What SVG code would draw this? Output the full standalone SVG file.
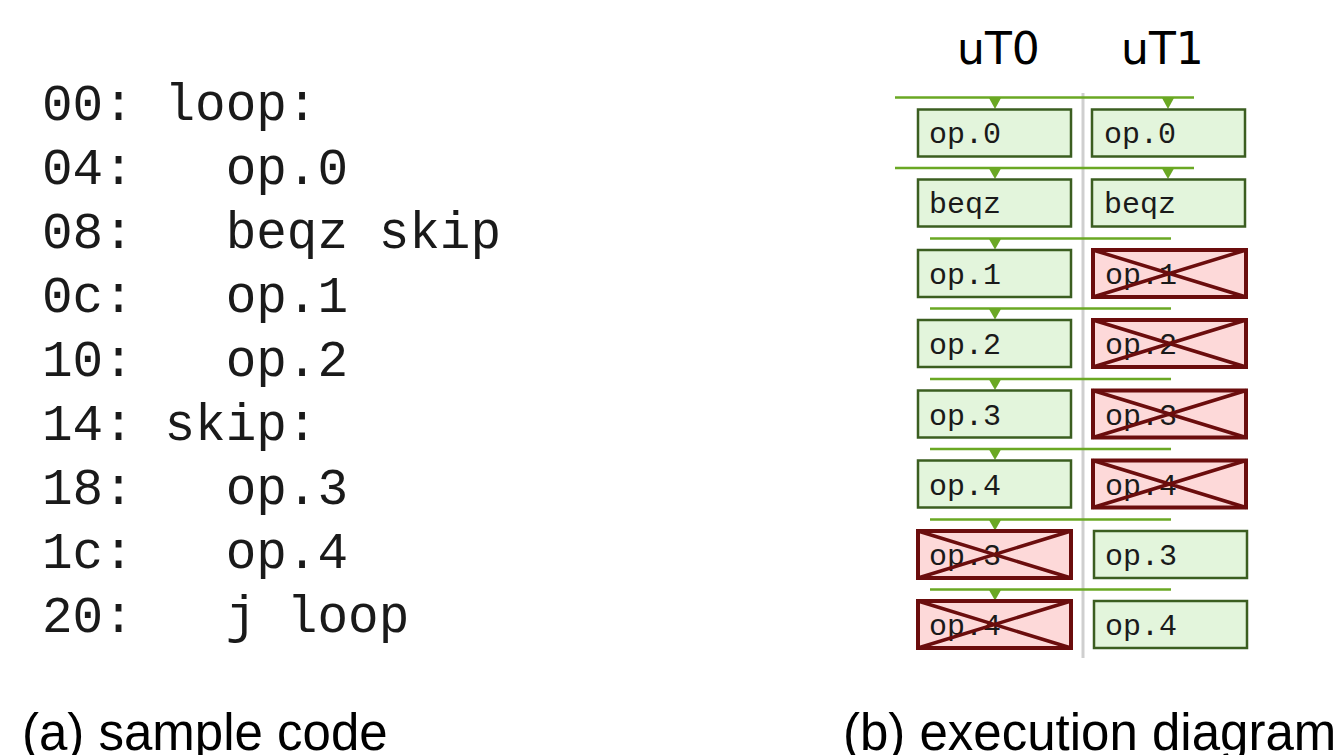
<svg xmlns="http://www.w3.org/2000/svg" width="1336" height="755" viewBox="0 0 1336 755">
<defs>
<style>
.code{font-family:"Liberation Mono","Courier New",monospace;font-size:51px;fill:#1a1a1a}
.cap{font-family:"Liberation Sans",Arial,sans-serif;font-size:51px;fill:#000}
.hdr{font-family:"DejaVu Sans","Liberation Sans",sans-serif;font-size:44px;fill:#000}
.ok{fill:#e3f5dc;stroke:#3b5e20;stroke-width:2.5}
.bad{fill:#fdd9d9;stroke:#6b0d0d;stroke-width:4}
.x{stroke:#6b0d0d;stroke-width:3.5}
.lbl{font-family:"Liberation Mono","Courier New",monospace;font-size:30px;fill:#1a1a1a}
.flow{stroke:#6aa823;stroke-width:2.5;fill:none}
.head{fill:#6aa823}
</style>
</defs>
<rect width="1336" height="755" fill="#fff"/>
<g id="code">
<text class="code" x="42" y="120" xml:space="preserve">00: loop:</text>
<text class="code" x="42" y="184" xml:space="preserve">04:   op.0</text>
<text class="code" x="42" y="248" xml:space="preserve">08:   beqz skip</text>
<text class="code" x="42" y="312" xml:space="preserve">0c:   op.1</text>
<text class="code" x="42" y="376" xml:space="preserve">10:   op.2</text>
<text class="code" x="42" y="440" xml:space="preserve">14: skip:</text>
<text class="code" x="42" y="504" xml:space="preserve">18:   op.3</text>
<text class="code" x="42" y="568" xml:space="preserve">1c:   op.4</text>
<text class="code" x="42" y="632" xml:space="preserve">20:   j loop</text>
</g>
<g id="headers">
<text class="hdr" x="957" y="64">uT0</text>
<text class="hdr" x="1121" y="64">uT1</text>
</g>
<line x1="1083" y1="93" x2="1083" y2="658" stroke="#cfcfcf" stroke-width="3"/>
<g id="connectors">
<line class="flow" x1="895" y1="97.5" x2="1194" y2="97.5"/>
<polygon class="head" points="989,98 1001,98 995,109"/>
<polygon class="head" points="1162,98 1174,98 1168,109"/>
<line class="flow" x1="895" y1="168" x2="1194" y2="168"/>
<polygon class="head" points="989,168.5 1001,168.5 995,179"/>
<polygon class="head" points="1162,168.5 1174,168.5 1168,179"/>
<line class="flow" x1="930" y1="238.5" x2="1171" y2="238.5"/>
<polygon class="head" points="989,239 1001,239 995,249.5"/>
<line class="flow" x1="930" y1="308.5" x2="1171" y2="308.5"/>
<polygon class="head" points="989,309 1001,309 995,319.5"/>
<line class="flow" x1="930" y1="379" x2="1171" y2="379"/>
<polygon class="head" points="989,379.5 1001,379.5 995,390"/>
<line class="flow" x1="930" y1="449" x2="1171" y2="449"/>
<polygon class="head" points="989,449.5 1001,449.5 995,460"/>
<line class="flow" x1="930" y1="519.5" x2="1171" y2="519.5"/>
<polygon class="head" points="989,520 1001,520 995,530.5"/>
<line class="flow" x1="930" y1="589.5" x2="1171" y2="589.5"/>
<polygon class="head" points="989,590 1001,590 995,600.5"/>
</g>
<g id="t0-op0"><rect class="ok" x="918" y="109.5" width="153" height="47"/><text class="lbl" x="929" y="143">op.0</text></g>
<g id="t1-op0"><rect class="ok" x="1092" y="109.5" width="153" height="47"/><text class="lbl" x="1104" y="143">op.0</text></g>
<g id="t0-beqz"><rect class="ok" x="918" y="179.5" width="153" height="47"/><text class="lbl" x="929" y="213">beqz</text></g>
<g id="t1-beqz"><rect class="ok" x="1092" y="179.5" width="153" height="47"/><text class="lbl" x="1104" y="213">beqz</text></g>
<g id="t0-op1"><rect class="ok" x="918" y="250" width="153" height="47"/><text class="lbl" x="929" y="284">op.1</text></g>
<g id="t1-op1"><rect class="bad" x="1093" y="250" width="153" height="47"/><text class="lbl" x="1105" y="284">op.1</text><path class="x" d="M1093,250 L1246,297 M1093,297 L1246,250"/></g>
<g id="t0-op2"><rect class="ok" x="918" y="320" width="153" height="47"/><text class="lbl" x="929" y="354">op.2</text></g>
<g id="t1-op2"><rect class="bad" x="1093" y="320" width="153" height="47"/><text class="lbl" x="1105" y="354">op.2</text><path class="x" d="M1093,320 L1246,367 M1093,367 L1246,320"/></g>
<g id="t0-op3"><rect class="ok" x="918" y="390.5" width="153" height="47"/><text class="lbl" x="929" y="424.5">op.3</text></g>
<g id="t1-op3"><rect class="bad" x="1093" y="390.5" width="153" height="47"/><text class="lbl" x="1105" y="424.5">op.3</text><path class="x" d="M1093,390.5 L1246,437.5 M1093,437.5 L1246,390.5"/></g>
<g id="t0-op4"><rect class="ok" x="918" y="460.5" width="153" height="47"/><text class="lbl" x="929" y="494.5">op.4</text></g>
<g id="t1-op4"><rect class="bad" x="1093" y="460.5" width="153" height="47"/><text class="lbl" x="1105" y="494.5">op.4</text><path class="x" d="M1093,460.5 L1246,507.5 M1093,507.5 L1246,460.5"/></g>
<g id="t0-op3b"><rect class="bad" x="918" y="531" width="153" height="47"/><text class="lbl" x="929" y="565">op.3</text><path class="x" d="M918,531 L1071,578 M918,578 L1071,531"/></g>
<g id="t1-op3b"><rect class="ok" x="1094" y="531" width="153" height="47"/><text class="lbl" x="1105" y="565">op.3</text></g>
<g id="t0-op4b"><rect class="bad" x="918" y="601" width="153" height="47"/><text class="lbl" x="929" y="635">op.4</text><path class="x" d="M918,601 L1071,648 M918,648 L1071,601"/></g>
<g id="t1-op4b"><rect class="ok" x="1094" y="601" width="153" height="47"/><text class="lbl" x="1105" y="635">op.4</text></g>
<g id="captions">
<text class="cap" x="22" y="750">(a) sample code</text>
<text class="cap" x="843" y="750">(b) execution diagram</text>
</g>
</svg>
